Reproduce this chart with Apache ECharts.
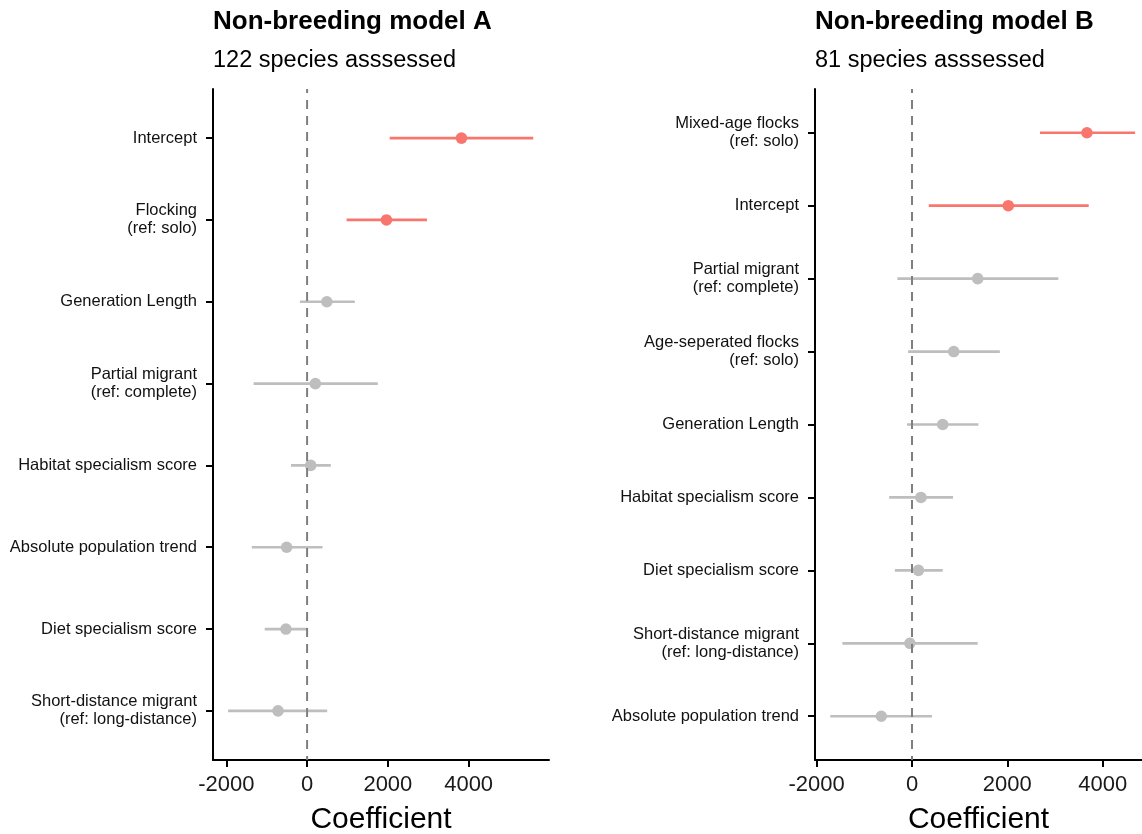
<!DOCTYPE html>
<html>
<head>
<meta charset="utf-8">
<script src="https://cdn.jsdelivr.net/npm/echarts@6/dist/echarts.min.js"></script>
<style>
html,body{margin:0;padding:0;background:#fff;}
#chart{width:1142px;height:834px;}
</style>
</head>
<body>
<div id="chart"></div>
<script>
// ---- Data: Non-breeding model A (top to bottom) ----
const categoriesA = [
  "Intercept",
  "Flocking\n(ref: solo)",
  "Generation Length",
  "Partial migrant\n(ref: complete)",
  "Habitat specialism score",
  "Absolute population trend",
  "Diet specialism score",
  "Short-distance migrant\n(ref: long-distance)"
];
const estimateA = [3822, 1965, 489, 204, 89, -507, -524, -720];
const lowerA    = [2045, 978, -178, -1325, -400, -1369, -1049, -1956];
const upperA    = [5600, 2969, 1182, 1751, 587, 382, 5, 498];

// ---- Data: Non-breeding model B (top to bottom) ----
const categoriesB = [
  "Mixed-age flocks\n(ref: solo)",
  "Intercept",
  "Partial migrant\n(ref: complete)",
  "Age-seperated flocks\n(ref: solo)",
  "Generation Length",
  "Habitat specialism score",
  "Diet specialism score",
  "Short-distance migrant\n(ref: long-distance)",
  "Absolute population trend"
];
const estimateB = [3670, 2020, 1378, 876, 644, 187, 135, -45, -644];
const lowerB    = [2685, 352, -307, -82, -105, -479, -360, -1460, -1715];
const upperB    = [4680, 3707, 3071, 1843, 1393, 861, 644, 1378, 419];

const xTicks = [-2000, 0, 2000, 4000];
const titles = ["Non-breeding model A", "Non-breeding model B"];
const subtitles = ["122 species asssessed", "81 species asssessed"];

// ---- Styling ----
const FONT = "'Liberation Sans', Arial, Helvetica, sans-serif";
const RED = "#F8766D";
const GRAY = "#BEBEBE";
const DASH = "#7F7F7F";

function rows(lo, est, hi) {
  return est.map((e, i) => [i, lo[i], e, hi[i]]);
}

function renderItem(params, api) {
  const y = api.value(0), lo = api.value(1), est = api.value(2), hi = api.value(3);
  const a = api.coord([lo, y]), b = api.coord([hi, y]), c = api.coord([est, y]);
  const col = (lo > 0 || hi < 0) ? RED : GRAY;
  return {
    type: 'group',
    children: [
      {type: 'line', shape: {x1: a[0], y1: a[1], x2: b[0], y2: b[1]}, style: {stroke: col, lineWidth: 2.7}},
      {type: 'circle', shape: {cx: c[0], cy: c[1], r: 5.8}, style: {fill: col}}
    ]
  };
}

function xAxisDef(gi, min, max) {
  return {
    type: 'value', gridIndex: gi, min: min, max: max,
    axisLine: {show: true, onZero: false, lineStyle: {color: '#000', width: 2}},
    axisTick: {show: true, length: 7, lineStyle: {color: '#000', width: 2}, customValues: xTicks},
    axisLabel: {show: true, customValues: xTicks, fontSize: 22, color: '#1a1a1a', fontFamily: FONT, margin: 14,
      formatter: v => String(v)},
    splitLine: {show: false},
    name: 'Coefficient', nameLocation: 'middle', nameGap: 45,
    nameTextStyle: {fontSize: 30, color: '#000', fontFamily: FONT}
  };
}

function yAxisDef(gi, cats) {
  const idx = cats.map((_, i) => i);
  return {
    type: 'value', gridIndex: gi, inverse: true, min: -0.6, max: cats.length - 1 + 0.6,
    axisLine: {show: true, onZero: false, lineStyle: {color: '#000', width: 2}},
    axisTick: {show: true, length: 7, lineStyle: {color: '#000', width: 2}, customValues: idx},
    axisLabel: {
      show: true, customValues: idx, margin: 16,
      fontSize: 16.5, lineHeight: 18, color: '#111', fontFamily: FONT, align: 'right',
      formatter: v => cats[Math.round(v)]
    },
    splitLine: {show: false}
  };
}

const chart = echarts.init(document.getElementById('chart'), null, {renderer: 'canvas'});
chart.setOption({
  animation: false,
  backgroundColor: '#fff',
  title: [
    {text: titles[0], left: 213, top: 9, padding: 0, textStyle: {fontSize: 26, fontWeight: 'bold', color: '#000', fontFamily: FONT}},
    {text: subtitles[0], left: 213, top: 49, padding: 0, textStyle: {fontSize: 23.5, fontWeight: 'normal', color: '#000', fontFamily: FONT}},
    {text: titles[1], left: 815, top: 9, padding: 0, textStyle: {fontSize: 26, fontWeight: 'bold', color: '#000', fontFamily: FONT}},
    {text: subtitles[1], left: 815, top: 49, padding: 0, textStyle: {fontSize: 23.5, fontWeight: 'normal', color: '#000', fontFamily: FONT}}
  ],
  grid: [
    {left: 213, top: 89, width: 336, height: 671, containLabel: false, outerBoundsMode: 'none'},
    {left: 815, top: 89, width: 327, height: 671, containLabel: false, outerBoundsMode: 'none'}
  ],
  xAxis: [xAxisDef(0, -2330, 5990), xAxisDef(1, -2035, 4825)],
  yAxis: [yAxisDef(0, categoriesA), yAxisDef(1, categoriesB)],
  series: [
    {type: 'custom', xAxisIndex: 0, yAxisIndex: 0, renderItem: renderItem,
     data: rows(lowerA, estimateA, upperA), encode: {x: [1, 2, 3], y: 0}, z: 2},
    {type: 'custom', xAxisIndex: 1, yAxisIndex: 1, renderItem: renderItem,
     data: rows(lowerB, estimateB, upperB), encode: {x: [1, 2, 3], y: 0}, z: 2},
    {type: 'line', xAxisIndex: 0, yAxisIndex: 0, symbol: 'none', silent: true, z: 3,
     data: [[0, -0.6], [0, categoriesA.length - 0.4]],
     lineStyle: {color: DASH, width: 2, type: [9, 7], dashOffset: 5}},
    {type: 'line', xAxisIndex: 1, yAxisIndex: 1, symbol: 'none', silent: true, z: 3,
     data: [[0, -0.6], [0, categoriesB.length - 0.4]],
     lineStyle: {color: DASH, width: 2, type: [9, 7], dashOffset: 5}}
  ]
});
</script>
</body>
</html>
